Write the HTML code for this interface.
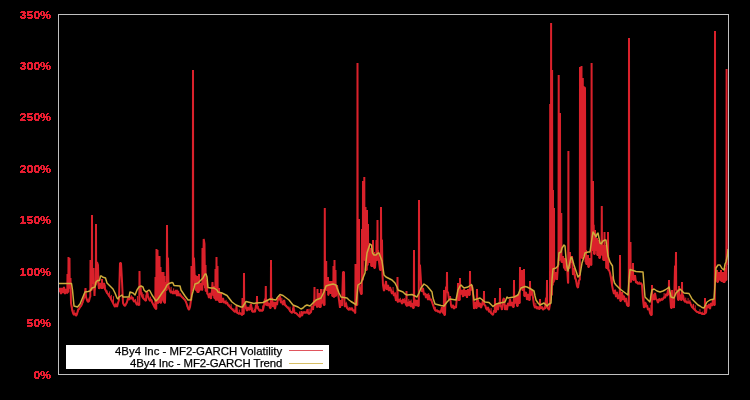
<!DOCTYPE html>
<html><head><meta charset="utf-8"><style>
html,body{margin:0;padding:0;background:#000;}
body{width:750px;height:400px;position:relative;overflow:hidden;}
svg{position:absolute;left:0;top:0;}
.lg{position:absolute;left:66px;top:345px;width:263px;height:24px;background:#fff;}
.lt{position:absolute;right:47px;font-family:"Liberation Sans",sans-serif;font-size:11.4px;color:#000;white-space:nowrap;line-height:12px;will-change:transform;-webkit-text-stroke:0.25px #000;}
.ll{position:absolute;left:223px;width:34px;height:1px;}
</style></head><body>
<svg width="750" height="400" viewBox="0 0 750 400">
<defs><filter id="px" x="0" y="0" width="100%" height="100%"><feComponentTransfer><feFuncA type="discrete" tableValues="0 1 1 1"/></feComponentTransfer></filter></defs>
<g filter="url(#px)" font-family="Liberation Sans, sans-serif" font-weight="bold" font-size="11" fill="#e61e30" text-anchor="end" transform="translate(51,0) scale(1.12,1) translate(-51,0)"><text x="51" y="19">350%</text><text x="51" y="70">300%</text><text x="51" y="121">250%</text><text x="51" y="173">200%</text><text x="51" y="224">150%</text><text x="51" y="276">100%</text><text x="51" y="327">50%</text><text x="51" y="379">0%</text></g>
<defs><clipPath id="pc"><rect x="59" y="15" width="669" height="359"/></clipPath></defs>
<g clip-path="url(#pc)">
<polyline fill="none" stroke="#da212b" stroke-width="2" stroke-linejoin="miter" stroke-miterlimit="1" points="58.5,289 59,292 60,288 61,294 62,288 63,293 64,287 65,294 66,289 67,293 67.3,293 67.5,274 67.7,292 68,292 68.3,292 68.5,257 68.7,288 69,288 69.3,288 69.5,258 69.7,284 70,284 70.5,278 71,303 72,309 73,313 74,315 75,313 76,316 77,314 78,310 79,309 80,307 81,306 82,304 83,301 84,298 85,293 85.5,288 86,297 87,300 88,302 89,301 90,297 90.3,297 90.5,260 90.7,290 91,290 91.8,290 92,215 92.2,283 93,283 93.3,283 93.5,268 93.7,282 94,282 94.5,296 95,285 95.8,285 96,224 96.2,283 96.5,283 97,262 98,265 98.5,285 99,289 100,283 101,288 101.8,288 102,279 102.2,288 103,288 104,283 105,289 106,291 107,293 108,294 109,296 110,297 111,299 112,301 113,303 114,305 115,307 116,304 117,307 118,303 119,300 120,263 121,263 122,281 123,303 124,305 125,306 126,304 127,302 128,298 129,300 130,297 131,299 132,297 133,299 134,302 135,300 136,303 137,305 138,303 138.5,305 139.3,305 139.5,271 139.7,286 140.5,286 141,293 142,296 143,298 144,299 145,300 146,301 147,291 148,296 149,299 150,301 151,299 152,302 153,304 154,306 155,308 155.3,308 155.5,277 155.7,309 156,309 156.3,309 156.5,249 156.7,300 157,300 157.3,300 157.5,250 157.7,303 158,303 158.3,303 158.5,268 158.7,300 159,300 159.3,300 159.5,256 159.7,302 160,302 160.3,302 160.5,267 160.7,303 161,303 162,290 162.3,290 162.5,272 162.7,300 163,300 163.3,300 163.5,272 163.7,302 164,302 164.3,302 164.5,276 164.7,303 165,303 165.5,282 166,290 166.8,290 167,225 167.2,258 168,258 168.5,286 169,288 170,291 171,293 172,291 173,294 174,291 175,294 176,290 177,296 178,291 179,296 180,294 181,296 182,297 183,298 184,299 185,300 186,302 187,305 188,308 189,310 190,307 191,300 191.3,300 191.5,266 191.7,290 192,290 192.8,290 193,70 193.2,258 194,258 195,285 195.3,285 195.5,275 195.7,290 196,290 196.8,290 197,276 197.2,292 198,292 198.8,292 199,274 199.2,290 200,290 201,283 202,290 202.3,290 202.5,248 202.7,285 203,285 203.7,239 204.5,244 205,288 205.3,288 205.5,265 205.7,291 206,291 206.8,291 207,280 207.2,294 208,294 209,298 210,293 211,299 212,290 212.5,282 213,295 213.8,295 214,286 214.2,298 215,298 215.3,298 215.5,269 215.7,300 216,300 216.3,300 216.5,257 216.7,290 217,290 217.3,290 217.5,266 217.7,300 218,300 218.8,300 219,288 219.2,302 220,302 220.8,302 221,292 221.2,302 222,302 223,298 224,303 225,301 226,304 227,302 228,305 229,306 230,307 231,308 232,309 233,310 234,311 235,312 236,311 236.5,306 237,313 238,313 239,314 240,313 241,314 242,315 242.3,315 242.5,298 242.7,314 243,314 243.8,314 244,273 244.2,303 245,303 246,308 247,311 248,307 249,310 250,309 251,304 252,311 253,312 254,311 255,312 256,305 256.8,305 257,296 257.2,308 258,308 259,310 260,311 261,310 262,311 263,310 264,305 265,299 265.6,299 265.8,286 266,305 266.5,305 267,300 268,306 269,303 270,308 270.8,308 271,260 271.2,298 272,298 273,307 274,302 275,309 276,302 277,305 278,298 279,300 280,296 281,303 282,301 283,305 284,300 285,305 286,306 287,307 288,308 289,309 290,311 291,312 292,313 293,311 293.5,306 294,312 295,313 296,313 297,314 298,315 299,316 300,317 301,315 301.5,311 302,316 303,313 304,312 305,313 306,312 307,313 307.5,309 308,313 309,314 310,313 311,312 312,306 313,310 314,300 314.3,300 314.5,287 314.7,305 315,305 316,300 317,307 317.3,307 317.5,289 317.7,305 318,305 318.8,305 319,293 319.2,307 320,307 320.8,307 321,289 321.2,303 322,303 323,300 323.3,300 323.5,289 323.7,305 324,305 324.6,305 324.8,208 325,282 325.5,282 326,282 326.2,261 326.4,290 327,290 327.8,290 328,277 328.2,295 328.5,295 329,290 329.8,290 330,281 330.2,293 331,293 331.8,293 332,281 332.2,296 333,296 333.3,296 333.5,266 333.7,297 334,297 334.3,297 334.5,260 334.7,290 335,290 335.3,290 335.5,270 335.7,296 336,296 337,285 338,293 339,300 340,308 341,300 342,306 343,272 344,272 344.5,305 345,307 346,303 347,308 348,309 349,310 350,308 351,310 352,308 353,311 354,310 355,313 355.3,313 355.5,264 355.7,305 356,305 357.3,305 357.5,63 357.7,270 358.5,270 358.8,270 359,219 359.2,285 359.5,285 360,290 361,294 361.8,294 362,229 362.2,280 362.5,280 362.8,280 363,181 363.2,250 363.5,250 364.1,250 364.3,177 364.5,260 365,260 365.3,260 365.5,207 365.7,270 366,270 366.8,270 367,210 367.2,265 367.5,265 367.8,265 368,224 368.2,260 368.5,260 368.8,260 369,243 369.2,262 370,262 370.8,262 371,248 371.2,266 372,266 372.8,266 373,240 373.2,265 373.5,265 373.8,265 374,252 374.2,268 375,268 376,255 376.3,255 376.5,240 376.7,260 377,260 377.3,260 377.5,220 377.7,250 378,250 379,262 380,270 380.8,270 381,207 381.2,240 382,240 382.5,275 383,285 384,291 385,288 386,281 387,290 388,285 389,291 390,287 391,290 392,294 393,291 394,296 395,293 396,301 397,298 397.3,298 397.5,277 397.7,302 398,302 399,299 400,302 401,300 402,304 403,299 404,303 405,300 406,305 406.3,305 406.5,291 406.7,306 407,306 408,302 409,306 410,301 411,307 412,303 413,308 413.8,308 414,250 414.2,300 415,300 416,306 417,300 418,306 418.8,306 419,200 419.2,265 420,265 421,282 422,292 423,288 424,295 425,293 426,298 427,294 428,300 429,295 430,300 431,299 432,302 433,305 434,308 435,310 436,311 437,310 438,312 439,311 440,313 441,311 442,307 443,313 443.8,313 444,290 444.2,315 445,315 446,287 446.8,287 447,272 447.2,292 448,292 449,300 450,296 451,305 452,308 453,305 454,309 455,306 456,308 457,296 457.8,296 458,283 458.2,300 459,300 459.8,300 460,278 460.2,294 461,294 462,290 463,297 464,289 465,296 466,290 467,298 468,289 469,295 469.8,295 470,271 470.2,290 471,290 472,285 473,293 474,309 475,302 476,308 476.8,308 477,289 477.2,300 478,300 479,307 480,303 481,308 482,305 483,300 483.8,300 484,291 484.2,305 485,305 486,308 487,310 488,307 489,312 490,311 491,313 492,314 493,315 494,311 494.8,311 495,298 495.2,312 496,312 497,304 498,310 499,303 499.8,303 500,288 500.2,306 501,306 502,310 503,300 504,298 505,310 506,305 507,310 508,303 509,306 510,299 511,306 512,302 513,307 513.8,307 514,280 514.2,303 515,303 516,296 517,306 517.8,306 518,294 518.2,303 519,303 519.8,303 520,267 520.2,285 521,285 521.8,285 522,270 522.2,290 523,290 523.8,290 524,269 524.2,296 525,296 526,292 527,300 528,294 529,300 529.8,300 530,281 530.2,295 531,295 532,290 533,298 534,305 535,308 536,306 537,309 538,307 539,309 539.8,309 540,299 540.2,308 541,308 542,307 543,310 544,308 545,309 546,298 546.8,298 547,280 547.2,308 548,308 549,310 549.8,305 550,305 550.2,104 550.4,300 550.6,300 550.9,300 551.1,23 551.3,295 551.6,295 551.9,295 552.1,70 552.3,285 552.6,285 552.8,285 553,190 553.2,282 553.5,282 553.8,282 554,208 554.2,280 554.5,280 555,278 556,272 557,280 558,265 558.5,265 558.7,75 558.9,260 559.3,260 559.8,260 560,113 560.2,255 560.7,255 561.1,255 561.3,213 561.5,262 562,262 563,256 564,268 564.8,268 565,258 565.2,270 566,270 567,265 568,283 568.2,283 568.4,151 568.6,268 569,268 569.8,268 570,252 570.2,262 571,262 572,256 573,275 574,268 575,278 576,280 577,286 578,288 579,280 579.8,280 580,67 580.2,255 580.7,255 581.3,255 581.5,66 581.7,258 582.2,258 582.6,258 582.8,78 583,255 583.5,255 584,87 585,88 585.5,262 585.8,262 586,250 586.2,264 587,264 587.8,264 588,255 588.2,267 589,267 590,258 591,265 591.4,265 591.6,63 591.8,250 592.3,250 592.8,250 593,181 593.2,225 593.7,225 594,254 594.8,254 595,230 595.2,250 596,250 596.8,250 597,238 597.2,255 598,255 598.8,255 599,240 599.2,258 600,258 601,245 601.6,245 601.8,206 602,255 602.5,255 602.8,255 603,245 603.2,260 604,260 604.3,260 604.5,232 604.7,260 605,260 605.8,260 606,245 606.2,268 607,268 607.8,268 608,232 608.2,270 609,270 610,273 611,278 612,285 613,290 614,294 615,290 616,297 617,292 618,299 619,295 619.8,295 620,255 620.2,301 621,301 622,292 623,300 624,296 625,302 626,298 627,305 628,306 628.8,306 629,38 629.2,270 630,270 630.3,270 630.5,242 630.7,282 631,282 632,272 632.8,272 633,263 633.2,280 634,280 635,275 636,283 637,282 638,284 639,283 640,284 641,283 642,285 643,300 644,308 645,302 646,307 647,305 648,310 649,308 650,313 651,315 651.8,315 652,285 652.2,295 653,295 654,300 655,293 656,299 657,300 658,303 659,299 660,301 661,299 662,300 663,299 664,297 665,298 666,294 667,296 668,290 668.8,290 669,280 669.2,295 670,295 671,308 671.8,308 672,290 672.2,305 673,305 674,308 675,266 675.8,266 676,252 676.2,290 677,290 678,300 678.8,300 679,286 679.2,295 680,295 681,300 681.8,300 682,282 682.2,295 683,295 684,300 685,302 686,301 687,303 688,302 689,303 690,302 691,305 692,307 693,308 694,309 695,310 696,311 697,312 698,312 699,313 700,313 701,313 702,314 703,314 704,314 704.8,314 705,298 705.2,313 706,313 707,305 708,308 709,304 710,309 711,303 712,306 713,300 714,305 714.8,305 715,31 715.2,280 716.5,280 716.8,280 717,270 717.2,282 718,282 719,272 720,280 720.8,280 721,270 721.2,281 722,281 722.8,281 723,272 723.2,282 724,282 724.8,282 725,268 725.2,280 726,280 726.4,280 726.6,69 726.8,265 727.3,265"/>
<path fill="none" stroke="#da212b" stroke-width="1" d="M60.00 291.0V288.7 M61.61 293.3V288.7 M63.11 292.3V288.6 M65.02 293.9V292.0 M72.09 311.4V306.7 M74.09 314.8V309.9 M75.66 315.7V313.3 M77.94 312.2V308.6 M80.15 307.7V306.3 M82.91 302.8V301.8 M87.32 301.6V299.4 M88.89 301.6V298.5 M95.30 289.5V287.6 M99.38 288.2V286.8 M100.87 288.0V285.0 M103.22 288.0V284.1 M105.06 290.1V284.7 M107.09 293.6V290.4 M109.61 297.2V291.4 M111.35 300.7V294.9 M113.48 305.0V296.2 M115.90 305.8V302.7 M124.69 305.9V303.9 M126.77 303.5V302.4 M129.11 299.7V298.0 M131.31 298.9V295.1 M133.15 300.9V297.1 M135.38 302.6V298.9 M137.42 304.8V296.0 M142.21 297.4V292.2 M143.69 299.2V294.1 M146.00 301.0V295.2 M148.55 299.1V296.5 M150.49 301.0V296.6 M151.92 302.8V299.8 M153.55 306.1V304.3 M171.12 292.8V286.9 M173.67 293.5V288.4 M175.45 293.9V290.9 M177.36 295.5V289.7 M180.10 295.2V293.2 M181.74 297.2V295.6 M183.47 299.0V296.9 M185.70 302.6V301.0 M187.10 306.8V303.9 M189.02 309.9V305.6 M196.24 290.0V287.1 M200.06 290.0V284.6 M207.70 294.8V291.2 M209.66 297.2V295.3 M213.43 295.0V293.7 M218.63 300.0V298.6 M220.03 302.0V299.9 M223.48 302.9V301.4 M226.10 303.8V299.8 M227.71 305.2V302.8 M229.60 307.1V304.4 M231.17 308.7V304.2 M233.96 311.5V308.4 M236.04 311.5V310.2 M237.58 313.1V310.7 M239.35 313.9V309.6 M240.98 314.5V313.3 M245.85 309.0V307.4 M248.01 309.0V307.8 M250.15 309.4V305.0 M252.76 312.0V307.6 M254.52 311.9V309.0 M256.15 307.4V305.0 M258.30 309.6V306.0 M260.16 310.9V308.8 M262.70 310.8V305.5 M267.82 305.8V302.6 M270.26 308.0V305.6 M274.28 307.4V306.2 M275.72 307.5V305.3 M279.85 298.6V296.1 M281.88 302.5V297.9 M284.66 305.2V299.9 M286.57 307.1V304.8 M288.29 308.8V306.5 M289.97 311.5V306.7 M292.63 312.7V308.1 M294.70 313.0V309.5 M297.22 314.7V313.2 M299.55 316.9V311.5 M302.04 315.9V312.0 M304.11 312.6V311.2 M306.62 312.9V310.4 M309.14 313.9V308.7 M311.09 312.4V309.8 M316.23 305.1V303.9 M317.81 305.9V304.4 M327.17 290.0V287.2 M331.38 293.0V289.4 M341.59 305.0V300.1 M346.22 306.6V301.7 M347.91 309.4V306.5 M349.72 309.6V307.1 M351.94 309.3V307.3 M353.93 311.3V309.6 M356.60 305.0V303.0 M360.86 294.0V287.4 M369.78 262.0V254.9 M371.21 266.0V258.2 M374.27 268.0V260.9 M384.43 290.6V284.4 M389.10 290.6V288.1 M391.29 293.1V289.4 M393.07 293.9V287.0 M395.18 298.5V292.0 M400.33 301.8V297.8 M402.58 303.6V298.8 M404.70 302.4V298.1 M406.73 306.0V301.4 M408.80 305.7V299.0 M411.18 306.6V299.5 M415.66 305.5V301.6 M422.55 291.8V290.6 M424.57 294.9V292.9 M426.31 297.8V295.5 M428.65 299.3V293.1 M431.30 301.4V299.1 M433.70 308.4V304.4 M435.31 310.8V306.8 M438.06 311.9V310.1 M440.79 312.4V310.0 M442.88 313.0V308.4 M451.19 307.1V304.6 M452.87 306.9V304.6 M455.28 307.6V306.3 M460.90 294.0V291.2 M463.17 296.4V292.7 M464.66 295.4V290.5 M467.16 297.3V290.9 M468.71 295.0V292.6 M474.43 307.9V306.2 M479.10 306.6V302.0 M480.86 307.7V305.6 M485.75 308.5V305.3 M487.27 309.9V308.6 M489.64 311.9V308.7 M491.14 313.6V308.1 M493.43 314.9V310.1 M497.54 309.7V308.6 M500.15 306.0V304.9 M502.03 309.7V306.7 M506.50 310.0V307.5 M508.64 305.7V303.6 M510.19 303.8V302.4 M511.66 305.4V303.4 M515.32 303.0V299.5 M517.13 306.0V301.8 M518.78 303.0V299.8 M525.80 294.8V291.3 M527.47 299.7V294.9 M531.72 293.9V291.5 M535.82 307.4V302.8 M537.77 308.5V306.1 M540.14 309.0V306.4 M542.02 308.5V306.0 M544.41 308.9V306.3 M548.26 309.5V308.7 M551.34 300.0V297.5 M554.73 280.0V277.8 M562.26 262.0V257.8 M565.81 270.0V264.6 M571.22 262.0V259.0 M573.99 272.9V269.5 M575.73 281.4V274.3 M577.56 287.6V283.7 M578.96 284.3V281.5 M586.92 264.0V262.2 M588.69 267.0V264.1 M590.65 265.0V262.0 M597.85 255.0V245.9 M602.62 255.0V248.2 M605.25 260.0V253.1 M607.11 268.0V255.7 M608.72 270.7V264.3 M612.48 289.9V276.3 M615.13 294.4V289.5 M621.69 299.3V295.6 M623.79 298.8V294.9 M626.32 303.8V298.1 M635.92 282.8V279.8 M637.36 283.7V281.1 M639.26 283.8V281.3 M644.02 307.9V297.4 M646.29 306.9V302.7 M648.38 309.7V308.3 M650.90 315.0V304.9 M653.00 297.5V294.2 M655.32 297.9V296.5 M657.75 303.0V299.7 M659.26 300.5V298.0 M661.68 299.9V297.8 M664.11 297.8V293.1 M666.21 295.4V293.3 M668.28 291.3V289.6 M673.01 306.5V302.4 M680.33 299.1V296.2 M683.94 300.9V299.4 M685.71 301.8V297.6 M688.08 302.6V298.1 M689.89 303.2V299.9 M691.94 307.4V304.2 M693.51 309.0V303.9 M695.19 310.7V305.3 M697.90 312.4V311.2 M699.94 313.0V309.1 M702.69 314.0V311.6 M706.16 313.0V307.2 M707.86 307.6V304.9 M709.46 308.8V305.3 M712.19 305.8V304.4 M716.85 282.0V272.9 M719.24 277.9V274.5 M721.89 281.0V276.0 M723.33 282.0V280.1"/>
<polyline fill="none" stroke="#ceac3c" stroke-width="1.5" stroke-linejoin="round" points="58.5,283.5 71.5,283.5 72.5,290 74,306 77.5,307 80,304 85,292 88,291.5 90,291 92,288 95,287 96,282 97.5,280.5 99.5,280.5 100.5,276 101.5,276 102.5,277 105.5,278 107,283 108,284 110,286 111,287 113,289 115,293 117,298 118,299 119,297 122,295 123,297 129,297 130,292 133,293 135,295 137,290 139,287 141,286 143,287 144,290 146,292 149,290 150,291 152,295 154,298 156,301 158,299 160,296 162,293 165,289 167,285 169,283.5 172,282.5 173,283 174,285.5 180,286 181,290 183,293 185,296 188,300 191,300 192,295 194,288 195,284 198,283 201,280 203,278 205,274 206,274 207,277 208,287.5 211,288 214,288 217,290 218,292 222,293 227,295.5 232,302 236,305 241,307 242.5,307 246,301.5 250,302.5 254,303.5 256,303 263,302.5 266,301 270,299 276,300 277,298 280,294.5 283,295.5 285,297 289,300 293,305 298,307 301,309 303,308 305,306 307,305 310,306 313,303 316,300 321,298 322,296 324,292 325,289 326,286 329,285 333,284 336,285 337,288 339,293 341,297 347,298 349,300 351,301.5 355,304 356,305 358,285 361,283 363,278 365,273 366,262 367,253 370,244 371.5,245 372.5,253 374,255 376,255 378,253 379,253 382,261 383,268 384,275 386,277 388,278 392,280 395,283 397,287 398,290 403,292 405,294 407,295 412,294.5 417,297 419,293 421,288 424,284 427,286 430,289.5 432,292 433,298 435,304 441,305.5 444,306 447,302 450,299 456,300 458,290 460,286 461,285 464,288 468,287 471.5,284.5 472.5,288 474,300 480,298 485,302 489,302.5 493,306.5 496,304 500,303 505,302 507,297 508,298 514,297 518,295 520,290 521,288 525,286.5 527,287 530,288.5 534,291 535,296 536,300 538,303 540,305 544,303 547,306 549,304 551,303 552,280 553,269 556,268 558,266 559,253 561,252 562,248 564,245 565,246 566,258 567,267 568,271 570,262 571,257 572,258 574,265 575,268 578,277 580,275 582,263 584,257 585,253 588,252 590,252 591,245 592,238 593,232 595,235 596,237 597,234 598,233 600,243 601,244 603,241 605,240 606,240 607,248 608,256 610,262 612.5,266 613.5,279 614.5,283 616,285 618,287 620,289 622,290.5 624,292 628,295 629,280 630,269.5 633,270.5 636,271.5 643,272 644,285 645,297 648,300 650,302 651,295 652,290 654,289 657,291 660,292 663,291 665,290 668,288 669,287 670,292 671,297 674,298 676,293 678,291 680,289 682,291 684,293 689,293.5 691,297 692,299 694,301 696,303 698,305 700,306 702,307.5 704,308 705,306 707,302 710,300 714,299 715,285 716,268 718,265 720,265 722,268.5 724,270 725,264 726,262 727.5,255 728,249"/>
</g>
<rect x="58.5" y="14.5" width="670" height="360" fill="none" stroke="#c0c0c0" stroke-width="1"/>
</svg>
<div class="lg">
<div class="lt" style="top:0px">4By4 Inc - MF2-GARCH Volatility</div>
<div class="lt" style="top:12px;letter-spacing:-0.08px">4By4 Inc - MF2-GARCH Trend</div>
<div class="ll" style="top:5px;background:#e0555d"></div>
<div class="ll" style="top:18px;background:#d7be64"></div>
</div>
</body></html>
